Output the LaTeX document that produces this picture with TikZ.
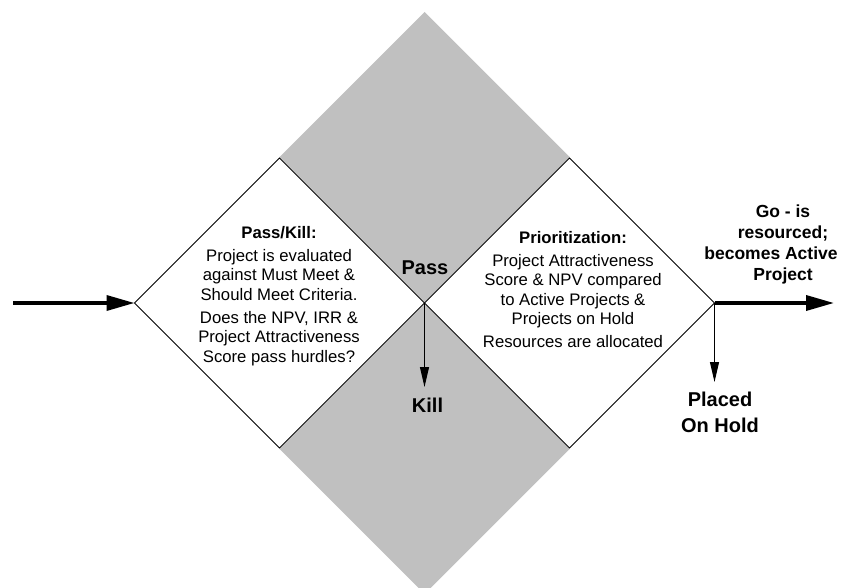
\documentclass[tikz,border=0pt]{standalone}
\usepackage{fontspec}
\setmainfont{Liberation Sans}
\usetikzlibrary{shapes.geometric,arrows.meta}
\definecolor{stagegray}{HTML}{C0C0C0}
\begin{document}
\begin{tikzpicture}[x=1pt,y=-1pt,
  quad/.style={diamond, minimum width=290pt, minimum height=290pt, inner sep=0pt, outer sep=0pt},
  band/.style={quad, fill=stagegray},
  gate/.style={quad, draw=black, line width=0.9pt, fill=white},
  body/.style={align=center, font=\fontsize{16.7}{19.5}\selectfont, inner sep=0pt, anchor=north},
  tag/.style={align=center, font=\bfseries\fontsize{20}{26.5}\selectfont, inner sep=0pt},
  flow/.style={line width=3.5pt, -{Triangle[length=28pt,width=15pt]}},
  drop/.style={line width=1pt, -{Triangle[length=20pt,width=9pt]}}]
\clip (0,0) rectangle (857,588);

% grey background quadrants of the stage diamond
\node[band] (up) at (424.5,157) {};
\node[band] (down) at (424.5,449) {};

% the two decision gates
\node[gate] (pk) at (279.5,303) {};
\node[gate] (pr) at (569.5,303) {};

% gate descriptions
\node[body] (pktext) at (279,226) {\textbf{Pass/Kill:}\\[3.5pt]
  Project is evaluated\\ against Must Meet \&\\ Should Meet Criteria.\\[3.5pt]
  Does the NPV, IRR \&\\ Project Attractiveness\\ Score pass hurdles?};
\node[body] (prtext) at (573,231) {\textbf{Prioritization:}\\[3.5pt]
  Project Attractiveness\\ Score \& NPV compared\\ to Active Projects \&\\ Projects on Hold\\[3.5pt]
  Resources are allocated};

% outcome labels
\node[tag, anchor=base] (pass) at (425,274) {Pass};
\node[tag, anchor=base] (kill) at (427.5,412) {Kill};
\node[tag, anchor=north] (hold) at (720,391.7) {Placed\\On Hold};
\node[align=center, font=\bfseries\fontsize{17.5}{21}\selectfont, inner sep=0pt, anchor=north]
  (go) at (783,205) {Go - is\\resourced;\\becomes Active\kern24pt\\Project};

% connectors
\coordinate (entry) at (13,303);
\coordinate (gonext) at (834,303);
\coordinate (killend) at (424.5,387);
\coordinate (holdend) at (714.5,382);
\draw[flow] (entry) -- (pk.west);
\draw[flow] (pr.east) -- (gonext);
\draw[drop] (pk.east) -- (killend);
\draw[drop] (pr.east) -- (holdend);
\end{tikzpicture}
\end{document}
